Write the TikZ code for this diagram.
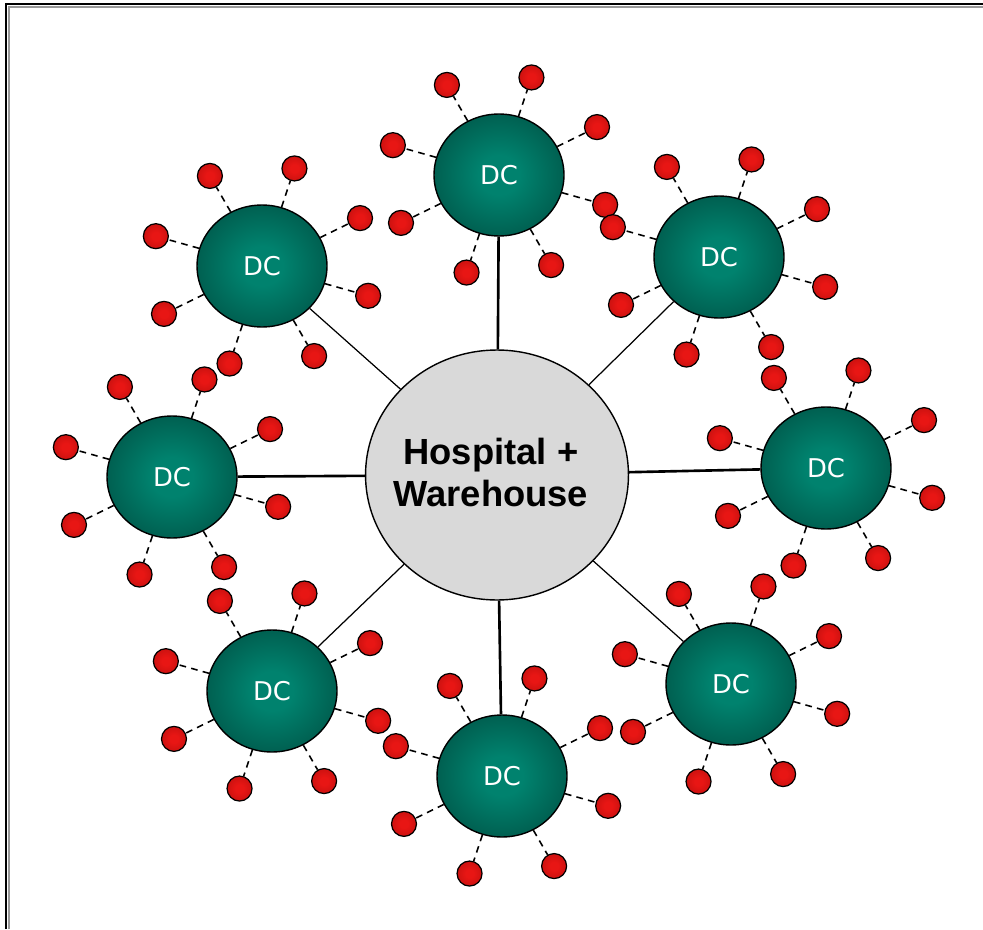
\documentclass[tikz,border=0pt]{standalone}
\usepackage{fontspec}
\usepackage{xcolor}
\usepackage{tikz}
\usetikzlibrary{shapes.geometric}

\newfontfamily\dcfont{DejaVu Sans}
\newfontfamily\hubfont{Liberation Sans}

\definecolor{dcinner}{RGB}{0,130,110}
\definecolor{dcouter}{RGB}{0,46,38}
\definecolor{dotinner}{RGB}{232,22,20}
\definecolor{dotouter}{RGB}{95,0,0}
\pgfdeclareradialshading{dcball}{\pgfpoint{0bp}{0bp}}{color(0bp)=(dcinner); color(8bp)=(dcinner); color(50bp)=(dcouter)}
\pgfdeclareradialshading{dotball}{\pgfpoint{0bp}{0bp}}{color(0bp)=(dotinner); color(8bp)=(dotinner); color(25bp)=(dotinner!80!dotouter); color(50bp)=(dotouter)}

\begin{document}
\begin{tikzpicture}[x=0.02cm,y=0.02cm]
      \tikzstyle{hub}=[ellipse,draw=black,line width=0.8pt,fill=black!15,minimum width=5.24cm,minimum height=5cm,inner xsep=-6pt,inner ysep=0pt,align=center,font=\hubfont\bfseries\fontsize{20.7}{26}\selectfont]
      \tikzstyle{dc}=[ellipse,draw=black,line width=0.8pt,shading=dcball,minimum width=2.6cm,minimum height=2.44cm,inner sep=0pt,text=white,font=\dcfont\fontsize{14.7}{17}\selectfont]
      \tikzstyle{client}=[circle,draw=black,line width=0.7pt,shading=dotball,minimum size=0.5cm,inner sep=0pt]
      \tikzstyle{feed}=[line width=0.9pt,dash pattern=on 3.8pt off 3pt]
      \useasboundingbox (0,0) rectangle (983,-929);

      % Frame (top and left edges)
      \draw[black!40,line width=0.8pt] (9,-929) -- (9,-7) -- (983,-7);
      \draw[line width=1.3pt] (6,-929) -- (6,-4) -- (983,-4);

      % Hospital + Warehouse in the middle
      \node[hub] (H) at (497,-475) {\raisebox{3pt}{\shortstack{Hospital +\\[2pt]Warehouse}}\hspace*{7pt}};

      % Distribution centres, clockwise from the top
      \foreach \i/\x/\y in {1/499/-175,2/719/-257,3/826/-468,4/731/-684,
                            5/502/-776,6/272/-691,7/172/-477,8/262/-266}
        \node[dc] (DC-\i) at (\x,\y) {DC};

      % Eight clients round every DC
      \foreach \i in {1,...,8}
        \foreach \k in {0,...,7}
          \node[client] (S-\i-\k) at ([shift={({28+45*\k}:111 and 102)}]DC-\i.center) {};

      % Connections: hub to DCs
      \foreach \i/\w in {1/1.5pt,2/0.7pt,3/1.5pt,4/0.7pt,5/1.5pt,6/0.7pt,7/1.5pt,8/0.7pt}
        \draw[line width=\w] (H) -- (DC-\i);

      % Connections: DCs to clients
      \foreach \i in {1,...,8}
        \foreach \k in {0,...,7}
          \draw[feed] (DC-\i) -- (S-\i-\k);
\end{tikzpicture}
\end{document}
